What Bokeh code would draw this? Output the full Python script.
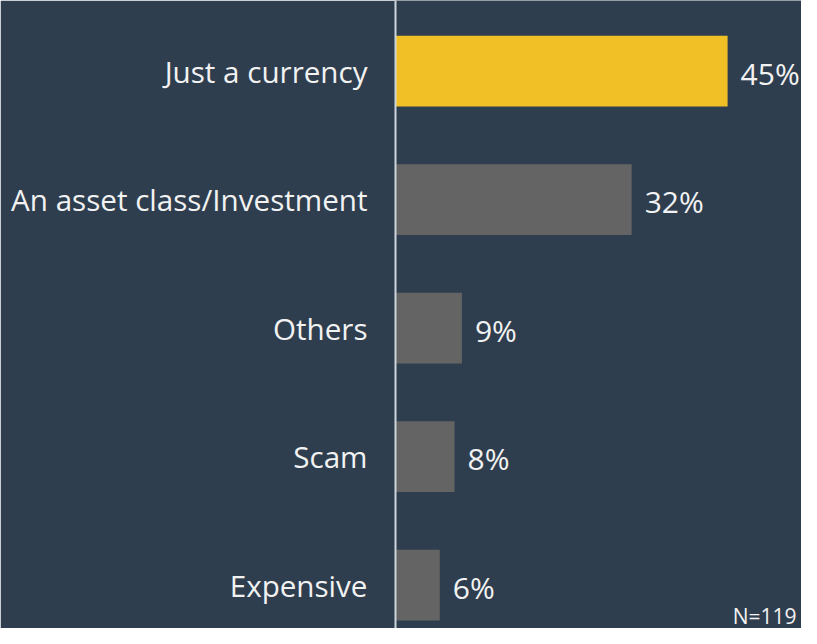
from bokeh.plotting import figure
from bokeh.models import Range1d, ColumnDataSource, Label, LabelSet
from bokeh.core.properties import value
from bokeh.embed import file_html
from bokeh.resources import INLINE

categories = ["Just a currency", "An asset class/Investment", "Others", "Scam", "Expensive"]
values = [45, 32, 9, 8, 6]
value_labels = ["45%", "32%", "9%", "8%", "6%"]
bar_colors = ["#f0c026", "#646464", "#646464", "#646464", "#646464"]
note = "N=119"

BG = "#2e3e4e"
TXT = "#f2f2f2"
FONT = "Open Sans"

n = len(categories)
ypos = [n - 1 - i for i in range(n)]

src = ColumnDataSource(dict(y=ypos, v=values, lab=value_labels, color=bar_colors))

LEFT = 395
W, H = 801, 628
PX_PER = 7.38

p = figure(width=W, height=H, output_backend="svg", toolbar_location=None,
           x_range=Range1d(0, (W - LEFT) / PX_PER), y_range=Range1d(-0.338, 4.549),
           min_border_left=LEFT, min_border_right=0, min_border_top=0, min_border_bottom=0)
p.background_fill_color = BG
p.border_fill_color = BG
p.outline_line_color = None
p.xgrid.visible = False
p.ygrid.visible = False
p.xaxis.visible = False

p.hbar(y="y", right="v", left=0, height=0.55, color="color", line_color=None, source=src)

p.add_layout(LabelSet(x="v", y="y", text="lab", source=src, x_offset=13, y_offset=-2,
                      text_align="left", text_baseline="middle",
                      text_color=TXT, text_font=value(FONT), text_font_size="30px"))

yax = p.yaxis[0]
yax.ticker = ypos
yax.major_label_overrides = {yp: c for yp, c in zip(ypos, categories)}
yax.major_tick_line_color = None
yax.minor_tick_line_color = None
yax.major_tick_out = 0
yax.major_tick_in = 0
yax.major_label_standoff = 28
yax.major_label_text_font = FONT
yax.major_label_text_font_size = "29.6px"
yax.major_label_text_color = TXT
yax.axis_line_color = "#cdd5dc"
yax.axis_line_width = 2

p.add_layout(Label(x=796 - LEFT, y=13, x_units="screen", y_units="screen", text=note,
                   text_align="right", text_baseline="middle",
                   text_color=TXT, text_font=FONT, text_font_size="21px"))

open("out.html", "w").write(file_html(p, INLINE))
